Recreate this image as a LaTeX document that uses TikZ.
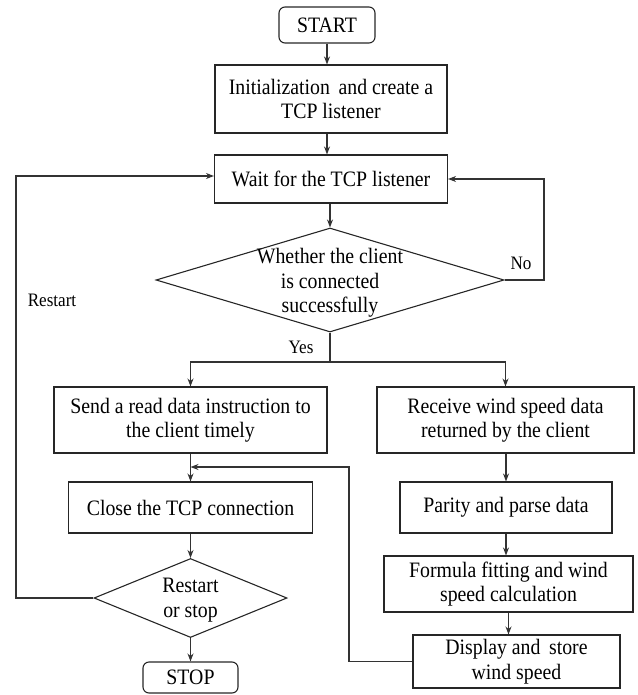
\documentclass[tikz,border=0pt]{standalone}
\usepackage{fontspec}
\setmainfont{Liberation Serif}[FakeStretch=0.9]
\usetikzlibrary{arrows.meta,shapes.geometric}
\begin{document}
\begin{tikzpicture}[x=1pt,y=-1pt,
  line width=1.1pt,
  every node/.style={inner sep=0pt},
  txt/.style={font=\fontsize{22}{24.5}\selectfont, align=center},
  lbl/.style={font=\fontsize{19}{22}\selectfont},
  procbox/.style={draw=black!85, txt, line width=1.1pt},
  termbox/.style={draw=black!85, txt, rounded corners=6pt, line width=1.1pt},
  decbox/.style={draw=black!85, diamond, line width=1.1pt},
  arr/.style={draw=black!80, -{Stealth[length=8pt,width=6pt]}},
  ln/.style={draw=black!80}
]
\useasboundingbox (0,0) rectangle (637,695);

% terminals
\node[termbox, minimum width=96pt, minimum height=36pt] (start) at (327,25) {START};
\node[termbox, minimum width=95pt, minimum height=31pt] (stop) at (190.5,677.5) {STOP};

% main column
\node[procbox, minimum width=232pt, minimum height=68pt] (init) at (331,99) {Initialization\, and create a\\TCP listener};
\node[procbox, minimum width=233pt, minimum height=48pt] (wait) at (331,179) {Wait for the TCP listener};

\node[decbox, minimum width=348pt, minimum height=104pt] (dia) at (330,280) {};
\node[txt] (diatext) at (330,283) {Whether the client\\is connected\\successfully};

% left column
\node[procbox, minimum width=273pt, minimum height=66pt] (send) at (190.5,420) {Send a read data instruction to\\the client timely};
\node[procbox, minimum width=244pt, minimum height=51pt] (close) at (190.5,507.5) {Close the TCP connection};
\node[decbox, minimum width=193pt, minimum height=79pt] (dia2) at (190.5,598) {};
\node[txt] (dia2text) at (190.5,600) {Restart\\or stop};

% right column
\node[procbox, minimum width=257pt, minimum height=66pt] (recv) at (505.5,420) {Receive wind speed data\\returned by the client};
\node[procbox, minimum width=212pt, minimum height=51pt] (parity) at (506,507.5) {Parity and parse data};
\node[procbox, minimum width=249pt, minimum height=56pt] (formula) at (508.5,584) {Formula fitting and wind\\speed calculation};
\node[procbox, minimum width=207pt, minimum height=53pt] (display) at (516.5,661.5) {Display and\, store\\wind speed};

% labels
\node[lbl] (nolbl) at (521,263) {No};
\node[lbl] (yeslbl) at (301,347) {Yes};
\node[lbl] (restartlbl) at (52,300) {Restart};

% coordinates
\coordinate (nocorner) at (544,280);
\coordinate (split) at (330,362);
\coordinate (mergetop) at (349,467);
\coordinate (mergein) at (190.5,467);
\coordinate (rcorner) at (16,598);

% connectors
\draw[arr] (start.south) -- (start.south |- init.north);
\draw[arr] (init.south -| start.south) -- (wait.north -| start.south);
\draw[arr] (wait.south -| dia.north) -- (dia.north);
\draw[arr] (dia.east) -- (nocorner) |- (wait.east);
\draw[ln] (dia.south) -- (split);
\draw[arr] (split) -| (send.north);
\draw[arr] (split) -| (recv.north);
\draw[arr] (send.south) -- (close.north);
\draw[arr] (display.west) -| (mergetop) -- (mergein);
\draw[arr] (close.south) -- (dia2.north);
\draw[arr] (dia2.south) -- (stop.north);
\draw[arr] (dia2.west) -- (rcorner) |- ([yshift=3pt]wait.west);
\draw[arr] (recv.south -| parity.north) -- (parity.north);
\draw[arr] (parity.south) -- (parity.south |- formula.north);
\draw[arr] (formula.south) -- (formula.south |- display.north);
\end{tikzpicture}
\end{document}
